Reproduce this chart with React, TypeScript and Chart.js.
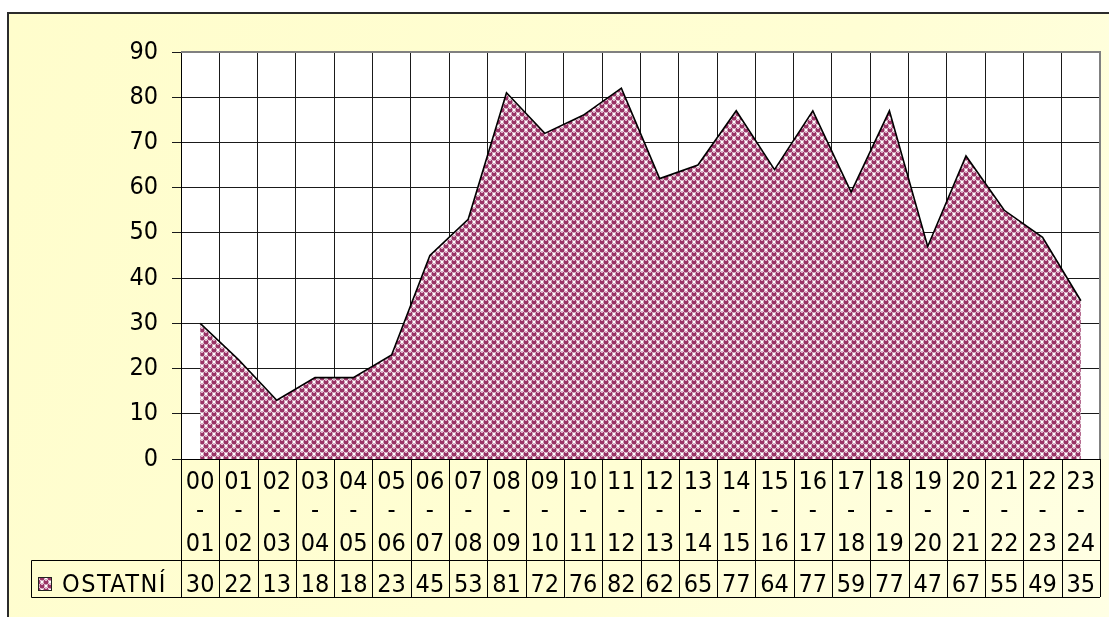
import React, { useEffect, useRef } from "react";
import { Chart, registerables } from "chart.js";

Chart.register(...registerables);

const categories: string[][] = [
  ["00", "01"], ["01", "02"], ["02", "03"], ["03", "04"], ["04", "05"], ["05", "06"],
  ["06", "07"], ["07", "08"], ["08", "09"], ["09", "10"], ["10", "11"], ["11", "12"],
  ["12", "13"], ["13", "14"], ["14", "15"], ["15", "16"], ["16", "17"], ["17", "18"],
  ["18", "19"], ["19", "20"], ["20", "21"], ["21", "22"], ["22", "23"], ["23", "24"],
];
const seriesName = "OSTATNÍ";
const values: number[] = [30, 22, 13, 18, 18, 23, 45, 53, 81, 72, 76, 82, 62, 65, 77, 64, 77, 59, 77, 47, 67, 55, 49, 35];
const yTicks = { min: 0, max: 90, step: 10 };

const FONT_FAMILY = '"DejaVu Sans Condensed", "DejaVu Sans", Verdana, sans-serif';
const FONT_SIZE = 25;

function makePattern(ctx: CanvasRenderingContext2D): CanvasPattern | string {
  const c = document.createElement("canvas");
  c.width = 8;
  c.height = 8;
  const p = c.getContext("2d");
  if (!p) return "#993366";
  p.fillStyle = "#ffffff";
  p.fillRect(0, 0, 8, 8);
  const centers = [[2, 2], [6, 6]];
  for (const [cx0, cy0] of centers) {
    for (const dx of [-8, 0, 8]) {
      for (const dy of [-8, 0, 8]) {
        const cx = cx0 + dx;
        const cy = cy0 + dy;
        p.fillStyle = "#993366";
        p.beginPath();
        p.arc(cx, cy, 2.55, 0, Math.PI * 2);
        p.fill();
        p.fillStyle = "#e2b0cc";
        p.fillRect(cx - 1, cy - 2, 2, 1);
      }
    }
  }
  return ctx.createPattern(c, "repeat") || "#993366";
}

export default function App() {
  const ref = useRef<HTMLCanvasElement | null>(null);

  useEffect(() => {
    const canvas = ref.current;
    if (!canvas) return;
    const ctx = canvas.getContext("2d");
    if (!ctx) return;
    const pattern = makePattern(ctx);

    const framePlugin = {
      id: "frame",
      beforeDraw(chart: any) {
        const c = chart.ctx as CanvasRenderingContext2D;
        const W = chart.width;
        const H = chart.height;
        const ca = chart.chartArea;
        c.save();
        c.fillStyle = "#ffffff";
        c.fillRect(0, 0, W, H);
        const g = c.createLinearGradient(8, 13, W, H);
        g.addColorStop(0, "#fffdcc");
        g.addColorStop(0.6, "#fffed4");
        g.addColorStop(1, "#ffffe4");
        c.fillStyle = g;
        c.fillRect(8, 13, W - 8, H - 13);
        c.fillStyle = "#2b2b2b";
        c.fillRect(7, 12, 2, H - 12);
        c.fillRect(7, 12, W - 7, 2);
        c.fillStyle = "#ffffff";
        c.fillRect(ca.left, ca.top, ca.right - ca.left, ca.bottom - ca.top);
        c.restore();
      },
      afterDraw(chart: any) {
        const c = chart.ctx as CanvasRenderingContext2D;
        const ca = chart.chartArea;
        const xs = chart.scales.x;
        const n = categories.length;
        const step = (ca.right - ca.left) / n;
        const rowTop = ca.bottom;
        const rowMid = rowTop + 101;
        const rowBottom = rowMid + 37;
        c.save();
        c.strokeStyle = "#808080";
        c.lineWidth = 2;
        c.beginPath();
        c.moveTo(ca.left, ca.top);
        c.lineTo(ca.right, ca.top);
        c.lineTo(ca.right, ca.bottom);
        c.stroke();

        c.strokeStyle = "#000000";
        c.lineWidth = 1;
        c.beginPath();
        for (let i = 0; i <= n; i++) {
          const x = Math.round(ca.left + i * step) + 0.5;
          c.moveTo(x, rowTop);
          c.lineTo(x, rowBottom);
        }
        const legendLeft = 31.5;
        c.moveTo(legendLeft, rowMid + 0.5);
        c.lineTo(ca.right, rowMid + 0.5);
        c.moveTo(legendLeft, rowBottom + 0.5);
        c.lineTo(ca.right, rowBottom + 0.5);
        c.moveTo(legendLeft, rowMid + 0.5);
        c.lineTo(legendLeft, rowBottom + 0.5);
        c.stroke();

        c.fillStyle = "#000000";
        c.font = `${FONT_SIZE}px ${FONT_FAMILY}`;
        c.textAlign = "center";
        c.textBaseline = "alphabetic";
        for (let i = 0; i < n; i++) {
          const x = xs.getPixelForValue(i);
          c.fillText(categories[i][0], x, rowTop + 29.5);
          c.fillText("-", x, rowTop + 59);
          c.fillText(categories[i][1], x, rowTop + 92);
          c.fillText(String(values[i]), x, rowMid + 31.5);
        }
        c.fillStyle = pattern as any;
        c.fillRect(38, rowMid + 17, 14, 14);
        c.strokeStyle = "#222222";
        c.lineWidth = 1;
        c.strokeRect(38.5, rowMid + 17.5, 13, 13);
        c.fillStyle = "#000000";
        c.textAlign = "left";
        (c as any).letterSpacing = "1.5px";
        c.fillText(seriesName, 62, rowMid + 32);
        c.restore();
      },
    };

    const chart = new Chart(canvas, {
      type: "line",
      data: {
        labels: categories.map((c) => `${c[0]}-${c[1]}`),
        datasets: [
          {
            label: seriesName,
            data: values,
            borderColor: "#000000",
            borderWidth: 1.6,
            backgroundColor: pattern as any,
            fill: "origin",
            pointRadius: 0,
            tension: 0,
          },
        ],
      },
      options: {
        animation: false,
        responsive: false,
        devicePixelRatio: 1,
        layout: { padding: { top: 52, right: 9, bottom: 158, left: 0 } },
        plugins: { legend: { display: false }, tooltip: { enabled: false } },
        scales: {
          x: {
            type: "category",
            offset: true,
            grid: { offset: true, color: "#1a1a1a", lineWidth: 1, drawTicks: false },
            ticks: { display: false },
            border: { display: true, color: "#000000", width: 1 },
            afterFit: (s: any) => {
              s.height = 0;
            },
          },
          y: {
            min: yTicks.min,
            max: yTicks.max,
            ticks: {
              stepSize: yTicks.step,
              color: "#000000",
              padding: 14,
              font: { family: FONT_FAMILY, size: FONT_SIZE },
            },
            grid: { color: "#1a1a1a", lineWidth: 1, tickLength: 9 },
            border: { display: true, color: "#000000", width: 1 },
            afterFit: (s: any) => {
              s.width = 181;
            },
          },
        },
      },
      plugins: [framePlugin],
    } as any);
    return () => chart.destroy();
  }, []);

  return (
    <div style={{ position: "fixed", left: 0, top: 0, width: 1109, height: 617 }}>
      <canvas ref={ref} width={1109} height={617} style={{ display: "block" }} />
    </div>
  );
}
